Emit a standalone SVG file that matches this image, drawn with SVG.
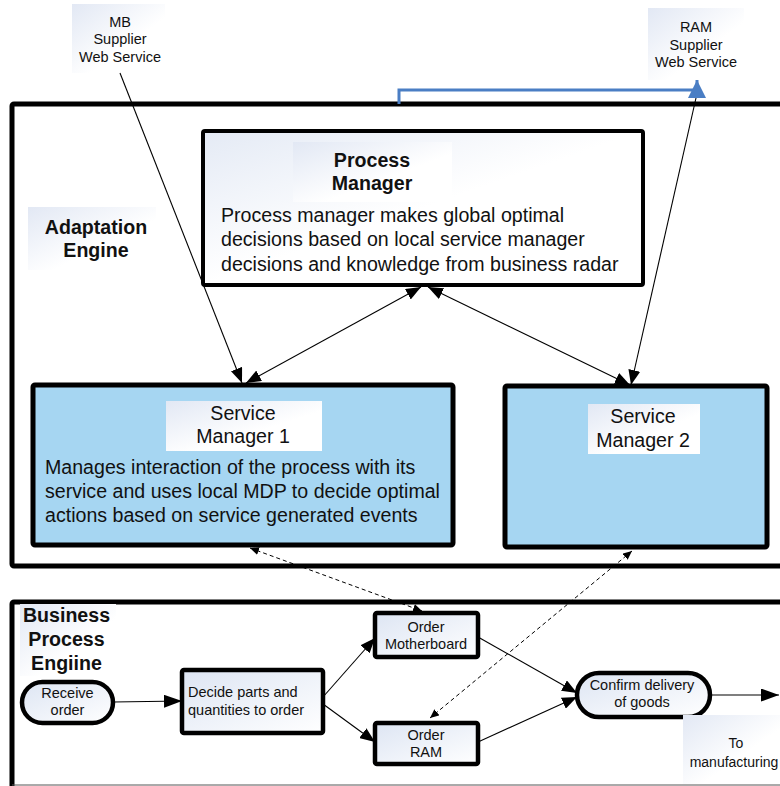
<svg xmlns="http://www.w3.org/2000/svg" width="780" height="786" viewBox="0 0 780 786">
<defs>
<linearGradient id="lg" x1="0" y1="0" x2="1" y2="1">
<stop offset="0" stop-color="#e2e8f4"/>
<stop offset="0.6" stop-color="#ffffff"/>
</linearGradient>
<linearGradient id="ng" x1="0" y1="0" x2="1" y2="1">
<stop offset="0" stop-color="#dde5f3"/>
<stop offset="1" stop-color="#ffffff"/>
</linearGradient>
<linearGradient id="pg" x1="0" y1="0" x2="1" y2="1">
<stop offset="0" stop-color="#e4eaf5"/>
<stop offset="0.5" stop-color="#ffffff"/>
</linearGradient>
<marker id="ah" markerUnits="userSpaceOnUse" viewBox="0 0 15 12" refX="15" refY="6" markerWidth="15" markerHeight="12" orient="auto-start-reverse">
<path d="M0,0 L15,6 L0,12 z" fill="#000"/>
</marker>
<marker id="ahb" markerUnits="userSpaceOnUse" viewBox="0 0 18 13" refX="18" refY="6.5" markerWidth="18" markerHeight="13" orient="auto">
<path d="M0,0 L18,6.5 L0,13 z" fill="#000"/>
</marker>
<marker id="ahs" markerUnits="userSpaceOnUse" viewBox="0 0 9 8" refX="9" refY="4" markerWidth="9" markerHeight="8" orient="auto-start-reverse">
<path d="M0,0 L9,4 L0,8 z" fill="#000"/>
</marker>
<marker id="ahblue" markerUnits="userSpaceOnUse" viewBox="0 0 18 18" refX="18" refY="9" markerWidth="18" markerHeight="18" orient="auto">
<path d="M0,0 L18,9 L0,18 z" fill="#4a7ec4"/>
</marker>
</defs>
<style>
text { font-family: "Liberation Sans", Arial, sans-serif; fill: #111; }
.big { font-size: 19.6px; }
.bold { font-size: 19.6px; font-weight: bold; }
.sm { font-size: 14.5px; }
.mid { text-anchor: middle; }
.frame { fill: none; stroke: #000; stroke-width: 5; }
.svc { fill: #a6d6f2; stroke: #000; stroke-width: 5; }
.node { fill: url(#ng); stroke: #000; stroke-width: 4.5; }
.lbl { fill: url(#lg); }
.con { fill: none; stroke: #000; stroke-width: 1.1; }
.dash { fill: none; stroke: #000; stroke-width: 1; stroke-dasharray: 4 3; }
</style>

<g id="adaptation-engine">
<rect class="frame" x="12" y="104" width="800" height="462" rx="2"/>
<rect class="lbl" x="28" y="207" width="128" height="63"/>
<text class="bold mid" x="96" y="234">Adaptation</text>
<text class="bold mid" x="96" y="257">Engine</text>
</g>

<g id="business-process-engine">
<rect class="frame" x="12" y="602" width="800" height="220" rx="2"/>
<line x1="12" y1="785" x2="780" y2="785" stroke="#555" stroke-width="1"/>
<rect class="lbl" x="20" y="604" width="96" height="72"/>
<text class="bold mid" x="66.5" y="621.5">Business</text>
<text class="bold mid" x="66.5" y="645.5">Process</text>
<text class="bold mid" x="66.5" y="670">Engiine</text>
</g>

<g id="mb-supplier">
<rect class="lbl" x="72" y="4" width="93" height="69"/>
<text class="sm mid" x="120" y="26.5">MB</text>
<text class="sm mid" x="120" y="44">Supplier</text>
<text class="sm mid" x="120" y="61.5">Web Service</text>
</g>

<g id="ram-supplier">
<rect class="lbl" x="648" y="8" width="96" height="72"/>
<text class="sm mid" x="696" y="31.5">RAM</text>
<text class="sm mid" x="696" y="49.5">Supplier</text>
<text class="sm mid" x="696" y="67">Web Service</text>
</g>

<g id="process-manager">
<rect x="203" y="131" width="440" height="154" rx="2" fill="url(#pg)" stroke="#000" stroke-width="4"/>
<rect x="293" y="142" width="159" height="60" fill="url(#lg)"/>
<text class="bold mid" x="372" y="167">Process</text>
<text class="bold mid" x="372" y="190">Manager</text>
<text class="big" x="221" y="221.5">Process manager makes global optimal</text>
<text class="big" x="221" y="246">decisions based on local service manager</text>
<text class="big" x="221" y="270.5">decisions and knowledge from business radar</text>
</g>

<g id="service-manager-1">
<rect class="svc" x="33" y="385" width="420" height="160" rx="2"/>
<rect x="166" y="401" width="156" height="50" fill="url(#lg)"/>
<text class="big mid" x="243" y="419.5">Service</text>
<text class="big mid" x="243" y="443">Manager 1</text>
<text class="big" x="45" y="473.5">Manages interaction of the process with its</text>
<text class="big" x="45" y="497.5">service and uses local MDP to decide optimal</text>
<text class="big" x="45" y="521.5">actions based on service generated events</text>
</g>

<g id="service-manager-2">
<rect class="svc" x="505" y="386" width="262" height="161" rx="2"/>
<rect x="588" y="404" width="112" height="50" fill="url(#lg)"/>
<text class="big mid" x="643" y="423">Service</text>
<text class="big mid" x="643" y="446.5">Manager 2</text>
</g>

<g id="receive-order">
<rect class="node" x="22" y="682" width="91" height="41" rx="20.5"/>
<text class="sm mid" x="67.5" y="697.5">Receive</text>
<text class="sm mid" x="67.5" y="714.5">order</text>
</g>

<g id="decide-parts">
<rect class="node" x="182" y="670" width="141" height="63" rx="2"/>
<text class="sm" x="188" y="697">Decide parts and</text>
<text class="sm" x="188" y="715">quantities to order</text>
</g>

<g id="order-motherboard">
<rect class="node" x="375" y="613" width="103" height="44" rx="2"/>
<text class="sm mid" x="426" y="631.5">Order</text>
<text class="sm mid" x="426" y="649">Motherboard</text>
</g>

<g id="order-ram">
<rect class="node" x="375" y="723" width="103" height="41" rx="2"/>
<text class="sm mid" x="426" y="739.5">Order</text>
<text class="sm mid" x="426" y="757">RAM</text>
</g>

<g id="confirm-delivery">
<rect class="node" x="577" y="673" width="133" height="44" rx="22"/>
<text class="sm mid" x="642" y="690">Confirm delivery</text>
<text class="sm mid" x="642" y="707">of goods</text>
</g>

<g id="to-manufacturing">
<rect class="lbl" x="683" y="715" width="97" height="69"/>
<text class="mid" x="736" y="748" font-size="14px">To</text>
<text class="mid" x="734" y="766.5" font-size="14px">manufacturing</text>
</g>

<g id="connectors">
<path d="M399,104 V90 H697 V80" fill="none" stroke="#4a7ec4" stroke-width="3" marker-end="url(#ahblue)"/>
<line class="con" x1="120" y1="73" x2="242" y2="383" marker-end="url(#ah)"/>
<line class="con" x1="421" y1="287" x2="246" y2="383" marker-start="url(#ah)" marker-end="url(#ah)"/>
<line class="con" x1="428" y1="287" x2="630" y2="385" marker-start="url(#ah)" marker-end="url(#ah)"/>
<line class="con" x1="696" y1="98" x2="631" y2="385" marker-end="url(#ah)"/>
<line class="dash" x1="250" y1="548" x2="422" y2="611" marker-start="url(#ahs)" marker-end="url(#ahs)"/>
<line class="dash" x1="632" y1="551" x2="430" y2="718" marker-start="url(#ahs)" marker-end="url(#ahs)"/>
<line class="con" x1="113" y1="702" x2="182" y2="701" marker-end="url(#ahb)"/>
<line class="con" x1="323" y1="697" x2="375" y2="638" marker-end="url(#ah)"/>
<line class="con" x1="323" y1="704" x2="375" y2="742" marker-end="url(#ah)"/>
<line class="con" x1="478" y1="637" x2="577" y2="693" marker-end="url(#ah)"/>
<line class="con" x1="478" y1="742" x2="577" y2="697" marker-end="url(#ah)"/>
<line class="con" x1="710" y1="695" x2="779" y2="695" marker-end="url(#ahb)"/>
</g>
</svg>
